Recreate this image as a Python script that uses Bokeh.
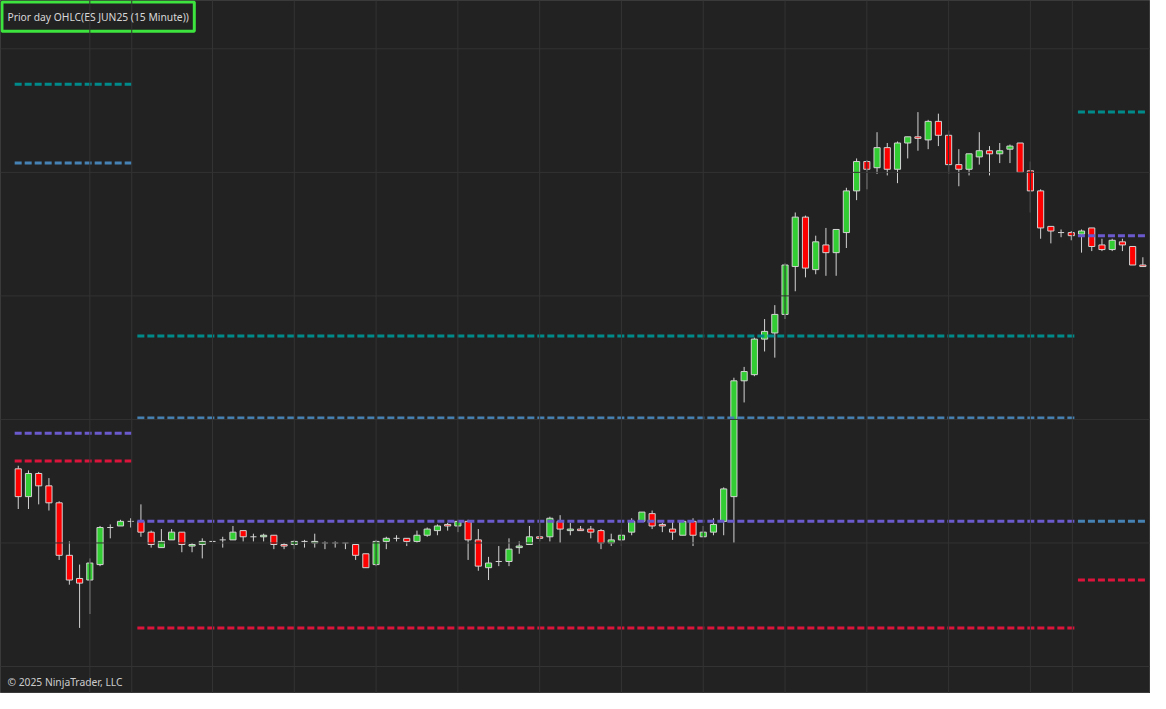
from bokeh.plotting import figure
from bokeh.models import Range1d, Span, Label, ColumnDataSource
from bokeh.embed import file_html
from bokeh.resources import INLINE

title_text = "Prior day OHLC(ES JUN25 (15 Minute))"
copyright_text = "\u00a9 2025 NinjaTrader, LLC"

opens = [5952.00, 5947.50, 5951.25, 5949.25, 5946.50, 5938.00, 5934.25, 5934.00, 5936.50, 5942.50,
         5942.75, 5943.50, 5943.50, 5941.75, 5939.25, 5940.50, 5941.75, 5939.50, 5939.75, 5940.25,
         5940.50, 5940.50, 5942.00, 5941.00, 5941.00, 5941.25, 5939.75, 5939.75, 5940.25, 5940.00,
         5940.00, 5940.00, 5940.00, 5939.75, 5938.25, 5936.50, 5940.25, 5940.75, 5940.75, 5940.25,
         5941.25, 5942.00, 5943.00, 5942.75, 5943.50, 5940.50, 5936.00, 5937.00, 5937.00, 5939.25,
         5939.75, 5941.00, 5941.00, 5943.50, 5942.00, 5942.25, 5942.25, 5942.00, 5940.00, 5940.50,
         5941.75, 5943.50, 5944.75, 5943.00, 5942.25, 5941.25, 5943.50, 5941.00, 5941.75, 5943.50,
         5947.50, 5966.25, 5967.25, 5973.00, 5974.00, 5977.00, 5984.75, 5992.75, 5984.25, 5988.25,
         5987.00, 5990.25, 5997.00, 6001.75, 6000.75, 6004.00, 6000.50, 6004.75, 6005.75, 6005.25,
         6008.25, 6006.00, 6001.25, 6000.50, 6002.50, 6003.50, 6003.00, 6003.75, 6004.75, 6000.25,
         5997.00, 5991.25, 5990.25, 5990.25, 5990.00, 5991.00, 5988.25, 5987.50, 5988.75, 5988.00,
         5985.00]
highs = [5952.50, 5951.75, 5951.50, 5950.50, 5946.75, 5940.25, 5936.50, 5937.50, 5942.75, 5943.00,
         5943.75, 5944.00, 5946.25, 5942.00, 5942.25, 5942.25, 5941.75, 5940.00, 5940.75, 5942.50,
         5941.00, 5942.75, 5942.00, 5941.50, 5941.50, 5941.25, 5940.00, 5940.50, 5940.50, 5941.50,
         5940.25, 5940.25, 5940.00, 5939.75, 5938.25, 5940.50, 5941.00, 5941.25, 5940.75, 5942.00,
         5942.50, 5943.00, 5943.25, 5943.75, 5943.75, 5942.25, 5937.75, 5939.50, 5940.75, 5940.25,
         5942.75, 5943.25, 5944.25, 5944.50, 5943.25, 5942.75, 5942.75, 5942.25, 5941.50, 5942.25,
         5944.00, 5945.00, 5945.25, 5943.25, 5943.50, 5943.50, 5944.00, 5942.75, 5944.00, 5949.00,
         5966.75, 5968.50, 5973.25, 5976.25, 5978.50, 5985.25, 5993.50, 5993.00, 5989.75, 5991.00,
         5990.75, 5997.50, 6002.25, 6002.00, 6006.50, 6004.75, 6005.00, 6005.75, 6009.75, 6008.50,
         6009.50, 6006.75, 6003.75, 6003.00, 6006.50, 6004.25, 6004.75, 6004.50, 6004.75, 6001.75,
         5997.25, 5991.25, 5990.75, 5990.50, 5990.75, 5991.00, 5989.25, 5989.25, 5989.25, 5988.00,
         5986.25]
lows = [5945.50, 5945.50, 5946.25, 5945.25, 5937.25, 5933.25, 5926.25, 5928.50, 5936.25, 5940.75,
        5942.75, 5942.50, 5941.00, 5939.25, 5939.25, 5940.50, 5938.50, 5938.50, 5937.50, 5940.00,
        5939.25, 5940.50, 5940.25, 5940.25, 5940.25, 5939.00, 5939.00, 5939.00, 5939.25, 5939.25,
        5939.00, 5939.25, 5939.00, 5937.25, 5936.00, 5936.25, 5939.00, 5940.25, 5939.50, 5940.00,
        5941.00, 5941.25, 5942.00, 5941.75, 5937.25, 5935.50, 5934.00, 5936.25, 5936.25, 5938.25,
        5939.75, 5940.25, 5940.25, 5940.00, 5941.25, 5942.00, 5940.75, 5939.00, 5939.50, 5939.50,
        5941.25, 5943.50, 5942.25, 5941.75, 5940.50, 5941.25, 5939.50, 5941.00, 5941.25, 5941.25,
        5940.00, 5962.75, 5967.00, 5971.00, 5970.00, 5976.25, 5980.75, 5983.00, 5983.50, 5983.25,
        5983.25, 5987.75, 5995.50, 5997.25, 5999.75, 5999.50, 5998.25, 6002.25, 6003.50, 6003.75,
        6004.25, 5999.75, 5997.75, 5999.50, 6001.25, 5999.50, 6001.50, 6001.50, 6000.00, 5993.50,
        5989.25, 5988.50, 5989.50, 5989.00, 5987.00, 5987.25, 5987.25, 5987.25, 5987.25, 5985.00,
        5984.75]
closes = [5947.50, 5951.25, 5949.25, 5946.50, 5938.00, 5934.00, 5933.50, 5936.75, 5942.50, 5942.50,
          5943.50, 5943.50, 5941.75, 5939.75, 5940.25, 5941.75, 5939.75, 5939.75, 5940.25, 5940.25,
          5940.50, 5941.75, 5941.00, 5941.00, 5941.25, 5939.75, 5939.50, 5940.25, 5940.25, 5940.25,
          5940.00, 5940.00, 5940.00, 5938.00, 5936.00, 5940.25, 5940.75, 5940.75, 5940.25, 5941.25,
          5942.25, 5942.75, 5942.75, 5943.50, 5940.50, 5936.25, 5936.75, 5937.00, 5939.00, 5939.50,
          5941.00, 5940.75, 5944.00, 5942.25, 5942.25, 5942.00, 5941.75, 5940.00, 5940.50, 5941.25,
          5943.50, 5945.00, 5942.75, 5942.75, 5941.75, 5943.50, 5941.25, 5941.75, 5943.00, 5948.75,
          5966.25, 5967.75, 5973.00, 5974.25, 5977.00, 5985.00, 5992.75, 5984.50, 5988.75, 5987.00,
          5990.75, 5997.00, 6001.75, 6000.50, 6004.00, 6000.50, 6004.75, 6005.75, 6005.50, 6008.25,
          6006.00, 6001.25, 6000.50, 6003.00, 6003.50, 6003.00, 6003.50, 6004.25, 6000.00, 5997.00,
          5991.00, 5990.50, 5990.25, 5989.75, 5990.50, 5988.00, 5987.50, 5989.00, 5988.25, 5985.00,
          5984.75]

# sessions (bar index ranges) and the prior-day levels drawn over each
session_start = [0, 12, 104]
session_end = [11, 103, 110]
prior_open = [6001.50, 5960.25, 5943.50]
prior_high = [6014.25, 5973.50, 6009.75]
prior_low = [5953.25, 5926.25, 5934.00]
prior_close = [5957.75, 5943.50, 5989.75]

price_grid = [5920, 5940, 5960, 5980, 6000, 6020]
# bar positions of even-hour time lines (16:00, 18:00, 20:00 ... 16:00, 18:00)
time_grid = [7, 11.1] + list(range(19, 100, 8)) + [103.1]

# ---------------------------------------------------------------
W, H = 1150, 693
REF_W, REF_H = 1166, 709
X0, X1 = -1.7364, 110.747
Y0, Y1 = 5915.63, 6027.82

def X(px):
    return X0 + px / REF_W * (X1 - X0)

def Y(py):
    return Y1 - py / REF_H * (Y1 - Y0)

BG = "#222222"
p = figure(width=W, height=H, x_range=Range1d(X0, X1), y_range=Range1d(Y0, Y1),
           x_axis_type=None, y_axis_type=None, toolbar_location=None,
           output_backend="svg", min_border=0)
p.background_fill_color = BG
p.border_fill_color = BG
p.outline_line_color = "#3a3a3a"
p.outline_line_width = 1
p.grid.visible = False

for g in price_grid:
    p.add_layout(Span(location=g, dimension="width", line_color="#333333", line_width=1))
for t in time_grid:
    p.add_layout(Span(location=t, dimension="height", line_color="#333333", line_width=1))

n = len(opens)
xs = list(range(n))
EDGE = "#d3d3d3"

# wicks
p.segment(x0=xs, y0=lows, x1=xs, y1=highs, line_color=EDGE, line_width=1)

up = [i for i in xs if closes[i] > opens[i]]
dn = [i for i in xs if closes[i] < opens[i]]
dj = [i for i in xs if closes[i] == opens[i]]

BW = 0.6
p.vbar(x=up, width=BW, bottom=[opens[i] for i in up], top=[closes[i] for i in up],
       fill_color="#32cd32", line_color=EDGE, line_width=1)
p.vbar(x=dn, width=BW, bottom=[closes[i] for i in dn], top=[opens[i] for i in dn],
       fill_color="#ff0000", line_color=EDGE, line_width=1)
p.segment(x0=[i - BW / 2 for i in dj], y0=[opens[i] for i in dj],
          x1=[i + BW / 2 for i in dj], y1=[opens[i] for i in dj],
          line_color=EDGE, line_width=1)

# prior-day OHLC dashed levels
levels = [(prior_high, "#008b8b"), (prior_open, "#4682b4"),
          (prior_close, "#6a5acd"), (prior_low, "#dc143c")]
for vals, col in levels:
    x0s = [s - 0.35 for s in session_start]
    x1s = [e + 0.35 for e in session_end]
    p.segment(x0=x0s, y0=vals, x1=x1s, y1=vals, line_color=col,
              line_width=3, line_dash="7 3")

# title box
p.quad(left=[X(1.5)], right=[X(196.5)], top=[Y(1.5)], bottom=[Y(31.5)],
       fill_color=BG, line_color="#3ee43e", line_width=3)
p.add_layout(Label(x=X(7), y=Y(16.5), text=title_text, text_font="Noto Sans",
                   text_font_size="10.3px", text_color="#d8d8d8", text_baseline="middle"))
p.add_layout(Label(x=X(7), y=Y(697), text=copyright_text, text_font="Noto Sans",
                   text_font_size="10.3px", text_color="#cccccc", text_baseline="middle"))

open("out.html", "w").write(file_html(p, INLINE))
